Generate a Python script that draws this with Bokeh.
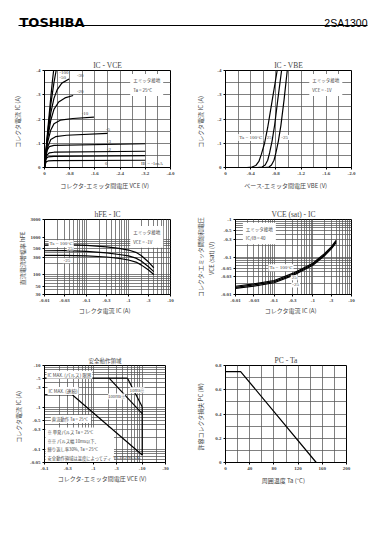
from bokeh.plotting import figure
from bokeh.models import Range1d, FixedTicker, CustomJSTickFormatter, Label
from bokeh.layouts import column, row
from bokeh.embed import file_html
from bokeh.resources import INLINE
from bokeh.core.properties import value

SERIF = "Liberation Serif"
JP = "Noto Sans CJK JP"

# ---------------- data ----------------
# (1) IC - VCE, common emitter, Ta = 25 C ; one list per base current (mA)
ivce_ib = ["-100", "-50", "-30", "-20", "-10", "-5", "-3", "-2", "-1.5", "-1"]
ivce_vce = [
    [0, -0.05, -0.10, -0.15, -0.20, -0.25, -0.29],
    [0, -0.05, -0.10, -0.20, -0.30, -0.37],
    [0, -0.05, -0.10, -0.20, -0.30, -0.40, -0.55, -0.78],
    [0, -0.05, -0.10, -0.20, -0.30, -0.45, -0.65, -0.91],
    [0, -0.05, -0.10, -0.20, -0.30, -0.50, -0.90, -1.57],
    [0, -0.05, -0.10, -0.20, -0.35, -0.70, -2.00],
    [0, -0.04, -0.08, -0.15, -0.30, -3.20],
    [0, -0.04, -0.08, -0.15, -0.30, -3.20],
    [0, -0.03, -0.06, -0.12, -0.30, -3.20],
    [0, -0.03, -0.06, -0.12, -0.30, -3.20],
]
ivce_ic = [
    [0, -0.75, -1.50, -2.20, -2.90, -3.55, -4.00],
    [0, -0.72, -1.40, -2.60, -3.50, -4.00],
    [0, -0.70, -1.30, -2.25, -2.85, -3.20, -3.48, -3.65],
    [0, -0.65, -1.20, -1.95, -2.40, -2.70, -2.87, -2.97],
    [0, -0.60, -1.05, -1.55, -1.80, -1.95, -2.02, -2.08],
    [0, -0.50, -0.85, -1.15, -1.27, -1.33, -1.41],
    [0, -0.45, -0.70, -0.86, -0.91, -0.98],
    [0, -0.35, -0.52, -0.60, -0.63, -0.67],
    [0, -0.25, -0.38, -0.44, -0.46, -0.49],
    [0, -0.16, -0.24, -0.27, -0.28, -0.30],
]
ivce_notes = ["-100", "-50", "-30", "-20", "-10", "-5", "-3", "-2", "0", "IB = -1mA"]
ivce_x_ticks = [0, -0.8, -1.6, -2.4, -3.2, -4.0]
ivce_x_labels = ["0", "-0.8", "-1.6", "-2.4", "-3.2", "-4.0"]
ic_y_ticks = [0, -1, -2, -3, -4]
ic_y_labels = ["0", "-1", "-2", "-3", "-4"]

# (2) IC - VBE, VCE = -1 V
vbe_temps = ["Ta = 100°C", "25", "-25"]
vbe_vbe = [
    [-0.34, -0.42, -0.48, -0.53, -0.57, -0.62, -0.67, -0.74, -0.82],
    [-0.50, -0.58, -0.63, -0.67, -0.70, -0.74, -0.78, -0.83, -0.89],
    [-0.62, -0.69, -0.73, -0.77, -0.80, -0.84, -0.88, -0.93, -0.98],
]
vbe_ic = [
    [0, -0.02, -0.08, -0.25, -0.55, -1.00, -1.65, -2.75, -4.00],
    [0, -0.02, -0.10, -0.30, -0.60, -1.10, -1.75, -2.80, -4.00],
    [0, -0.02, -0.10, -0.30, -0.60, -1.10, -1.75, -2.80, -4.00],
]
vbe_x_ticks = [0, -0.4, -0.8, -1.2, -1.6, -2.0]
vbe_x_labels = ["0", "-0.4", "-0.8", "-1.2", "-1.6", "-2.0"]

# (3) hFE - IC (|IC| in A, shown negative), VCE = -1 V
hfe_ic = [0.01, 0.03, 0.1, 0.3, 0.6, 1.0, 1.5, 2.0, 3.0, 4.0]
hfe_100 = [620, 640, 610, 560, 510, 460, 400, 330, 220, 155]
hfe_25 = [440, 445, 425, 385, 350, 320, 280, 235, 165, 122]
hfe_m25 = [330, 332, 322, 300, 275, 250, 220, 185, 135, 102]
ic_log_ticks = [0.01, 0.03, 0.1, 0.3, 1, 3, 10]
ic_log_labels = ["-0.01", "-0.03", "-0.1", "-0.3", "-1", "-3", "-10"]
hfe_ticks = [30, 50, 100, 300, 500, 1000, 3000]
hfe_labels = ["30", "50", "100", "300", "500", "1000", "3000"]

# (4) VCE(sat) - IC, IC/IB = 40 (magnitudes)
sat_ic = [0.01, 0.03, 0.1, 0.3, 1.0, 2.0, 3.0, 4.0]
sat_100 = [0.0166, 0.0193, 0.0236, 0.0365, 0.0685, 0.123, 0.187, 0.278]
sat_25 = [0.0155, 0.018, 0.022, 0.034, 0.064, 0.115, 0.175, 0.26]
sat_m25 = [0.0145, 0.0168, 0.0206, 0.0318, 0.060, 0.108, 0.164, 0.243]
sat_ticks = [0.01, 0.03, 0.05, 0.1, 0.3, 0.5, 1]
sat_labels = ["-0.01", "-0.03", "-0.05", "-0.1", "-0.3", "-0.5", "-1"]

# (5) Safe operating area (magnitudes)
soa_pulse_v = [0.1, 5.0]
soa_pulse_i = [5, 5]
soa_10ms_v = [5.0, 10]
soa_10ms_i = [5, 1.05]
soa_100ms_v = [2.1, 10]
soa_100ms_i = [5, 0.72]
soa_dc_v = [0.1, 0.375, 10]
soa_dc_i = [2, 2, 0.075]
soa_vceo_v = [10, 10]
soa_vceo_i = [1.05, 0.075]
soa_x_ticks = [0.1, 0.3, 1, 3, 10, 30]
soa_x_labels = ["-0.1", "-0.3", "-1", "-3", "-10", "-30"]
soa_y_ticks = [0.05, 0.1, 0.3, 0.5, 1, 3, 5, 10]
soa_y_labels = ["-0.05", "-0.1", "-0.3", "-0.5", "-1", "-3", "-5", "-10"]

# (6) PC - Ta
pc_ta = [0, 25, 150]
pc_w = [0.75, 0.75, 0]
ta_ticks = [0, 40, 80, 120, 160, 200]
ta_labels = ["0", "40", "80", "120", "160", "200"]
pc_ticks = [0, 0.2, 0.4, 0.6, 0.8]
pc_labels = ["0", "0.2", "0.4", "0.6", "0.8"]


# ---------------- helpers ----------------
def fmt(ticks, labels):
    return CustomJSTickFormatter(args=dict(t=list(ticks), l=list(labels)), code="""
        for (let i = 0; i < t.length; i++) {
            if (Math.abs(t[i] - tick) <= 1e-9 * Math.max(1, Math.abs(tick))) return l[i];
        }
        return '';
    """)


def log_grid(lo, hi):
    vals = []
    for e in range(-3, 3):
        for m in range(1, 10):
            v = round(m * 10 ** e, 6)
            if lo - 1e-12 <= v <= hi + 1e-12:
                vals.append(v)
    return vals


def chart(w, h, left, right, top, bottom, xr, yr, title, xt="linear", yt="linear"):
    p = figure(width=w, height=h, x_range=xr, y_range=yr, x_axis_type=xt, y_axis_type=yt,
               output_backend="svg", toolbar_location=None, title=title,
               min_border_left=left, min_border_right=right,
               min_border_top=top, min_border_bottom=bottom)
    p.outline_line_color = "black"
    p.outline_line_width = 1
    p.title.text_font = SERIF
    p.title.text_font_size = "7.5px"
    p.title.text_font_style = "normal"
    p.title.align = "center"
    p.title.standoff = 2
    p.background_fill_color = "white"
    return p


def style(p, xt, xl, yt, yl, xg, yg, xlabel, ylabel, xs, ys):
    p.xaxis.ticker = FixedTicker(ticks=xt, minor_ticks=[])
    p.yaxis.ticker = FixedTicker(ticks=yt, minor_ticks=[])
    p.xaxis.formatter = fmt(xt, xl)
    p.yaxis.formatter = fmt(yt, yl)
    p.xgrid.ticker = FixedTicker(ticks=xg, minor_ticks=[])
    p.ygrid.ticker = FixedTicker(ticks=yg, minor_ticks=[])
    for g in (p.xgrid[0], p.ygrid[0]):
        g.grid_line_color = "#555555"
        g.grid_line_width = 0.75
    for ax in (p.xaxis[0], p.yaxis[0]):
        ax.axis_line_color = "black"
        ax.major_tick_line_color = "black"
        ax.major_tick_out = 2
        ax.major_tick_in = 0
        ax.minor_tick_line_color = None
        ax.major_label_text_font = SERIF
        ax.major_label_text_font_size = "5px"
        ax.major_label_text_font_style = "bold"
        ax.major_label_standoff = 2
        ax.axis_label_text_font = JP
        ax.axis_label_text_font_size = "6px"
        ax.axis_label_text_font_style = "normal"
    p.xaxis.axis_label = xlabel
    p.yaxis.axis_label = ylabel
    p.xaxis.axis_label_standoff = xs
    p.yaxis.axis_label_standoff = ys


def note(p, x, y, text, align="left", baseline="middle", size="5px", bg=None, pad=0, lh=1.2,
         font=SERIF, level="annotation"):
    p.add_layout(Label(x=x, y=y, text=text, text_align=align, text_baseline=baseline,
                       text_font=font, text_font_size=size, level=level,
                       background_fill_color=bg, padding=pad, text_line_height=lh))


LW = 1.2

# ---------------- header (includes the 8px page offset) ----------------
hdr = figure(width=378, height=45, x_range=Range1d(0, 378), y_range=Range1d(45, 0),
             output_backend="svg", toolbar_location=None, min_border=0,
             x_axis_location=None, y_axis_location=None)
hdr.grid.visible = False
hdr.outline_line_color = None
hdr.text(x=[19], y=[22], text=["TOSHIBA"], text_font=value("DejaVu Sans"),
         text_font_style="bold", text_font_size="13px", text_baseline="alphabetic")
hdr.text(x=[367], y=[22], text=["2SA1300"], text_font=value("Liberation Sans"),
         text_font_size="10.5px", text_align="right", text_baseline="alphabetic")
hdr.segment(x0=[18], y0=[25], x1=[367], y1=[25], line_color="black", line_width=1)

# ---------------- chart 1 : IC - VCE ----------------
p1 = chart(193, 155, 44, 23, 25, 33, Range1d(0, -4), Range1d(0, -4), "IC - VCE")
style(p1, ivce_x_ticks, ivce_x_labels, ic_y_ticks, ic_y_labels,
      [-0.4 * i for i in range(11)], [-0.5 * i for i in range(9)],
      "コレクタ-エミッタ間電圧   VCE   (V)", "コレクタ電流   IC   (A)", 3, 11)
for xs, ys in zip(ivce_vce, ivce_ic):
    p1.line(xs, ys, line_color="black", line_width=LW)
n1_pos = [(-0.47, -3.93), (-0.47, -3.72), (-1.03, -3.78), (-1.03, -3.12), (-1.18, -2.22),
          (-1.95, -1.55), (-1.98, -1.08), (-1.98, -0.76), (-1.92, -0.17), (-3.06, -0.15)]
for t, (x, y) in zip(ivce_notes, n1_pos):
    note(p1, x, y, t, size="5px")
note(p1, -2.72, -3.86, "エミッタ接地\nTa = 25°C", baseline="top", size="4.5px", bg="white",
     pad=3, lh=1.7, font=JP, level="underlay")

# ---------------- chart 2 : IC - VBE ----------------
p2 = chart(185, 155, 32, 27, 25, 33, Range1d(0, -2), Range1d(0, -4), "IC - VBE")
style(p2, vbe_x_ticks, vbe_x_labels, ic_y_ticks, ic_y_labels,
      [-0.2 * i for i in range(11)], [-0.5 * i for i in range(9)],
      "ベース-エミッタ間電圧   VBE   (V)", "コレクタ電流   IC   (A)", 3, 9)
for xs, ys in zip(vbe_vbe, vbe_ic):
    p2.line(xs, ys, line_color="black", line_width=LW)
note(p2, -0.60, -1.24, vbe_temps[0], align="right", bg="white", pad=1)
note(p2, -0.695, -1.24, vbe_temps[1], align="center", bg="white", pad=0)
note(p2, -0.87, -1.24, vbe_temps[2], align="left", bg="white", pad=1)
note(p2, -1.33, -3.86, "エミッタ接地\nVCE = -1V", baseline="top", size="4.5px", bg="white",
     pad=3, lh=1.7, font=JP, level="underlay")

# ---------------- chart 3 : hFE - IC ----------------
p3 = chart(193, 135, 44, 23, 16, 41, Range1d(0.01, 10), Range1d(30, 3000), "hFE - IC", xt="log", yt="log")
style(p3, ic_log_ticks, ic_log_labels, hfe_ticks, hfe_labels,
      log_grid(0.01, 10), log_grid(30, 3000),
      "コレクタ電流   IC   (A)", "直流電流増幅率   hFE", 1, 1)
for ys in (hfe_100, hfe_25, hfe_m25):
    p3.line(hfe_ic, ys, line_color="black", line_width=LW)
note(p3, 0.0125, 680, "Ta = 100°C", bg="white", pad=1)
note(p3, 0.041, 520, "25", align="center", bg="white", pad=1)
note(p3, 0.034, 240, "-25", align="center", bg="white", pad=1)
note(p3, 1.1, 2000, "エミッタ接地\nVCE = -1V", baseline="top", size="4.5px", bg="white",
     pad=3, lh=1.6, font=JP, level="underlay")

# ---------------- chart 4 : VCE(sat) - IC ----------------
p4 = chart(185, 135, 32, 27, 19, 36, Range1d(0.01, 10), Range1d(0.01, 1), "VCE (sat) - IC", xt="log", yt="log")
style(p4, ic_log_ticks, ic_log_labels, sat_ticks, sat_labels,
      log_grid(0.01, 10), log_grid(0.01, 1),
      "コレクタ電流   IC   (A)", "コレクタ-エミッタ間飽和電圧\nVCE (sat)   (V)", 1, 2)
for ys in (sat_100, sat_25, sat_m25):
    p4.line(sat_ic, ys, line_color="black", line_width=LW)
note(p4, 0.15, 0.052, "Ta = 100°C", align="center", bg="white", pad=1)
note(p4, 0.33, 0.028, "25", align="center", bg="white", pad=1)
note(p4, 0.36, 0.018, "-25", align="center", bg="white", pad=1)
note(p4, 0.0155, 0.82, "エミッタ接地\nIC/IB = 40", baseline="top", size="4.5px", bg="white",
     pad=3, lh=1.6, font=JP, level="underlay")

# ---------------- chart 5 : safe operating area ----------------
p5 = chart(193, 165, 44, 28, 13, 38, Range1d(0.1, 30), Range1d(0.05, 10), "安全動作領域", xt="log", yt="log")
p5.title.text_font = JP
p5.title.text_font_size = "5.5px"
style(p5, soa_x_ticks, soa_x_labels, soa_y_ticks, soa_y_labels,
      log_grid(0.1, 30), log_grid(0.05, 10),
      "コレクタ-エミッタ間電圧   VCE   (V)", "コレクタ電流   IC   (A)", 1, 4)
note(p5, 0.105, 0.34, "※    単発パルス    Ta = 25°C\n※※ パルス幅 10ms以下、\n        繰り返し率30%, Ta = 25°C\n"
     "安全動作領域は温度によってディ\nレーティングして考える必要があ\nります。",
     baseline="top", size="4.3px", bg="white", pad=2, lh=1.42, font=JP, level="underlay")
note(p5, 0.135, 0.54, "直流動作   Ta = 25°C", size="4.3px", bg="white", pad=1, font=JP, level="underlay")
for xs, ys in ((soa_pulse_v, soa_pulse_i), (soa_10ms_v, soa_10ms_i), (soa_100ms_v, soa_100ms_i),
               (soa_dc_v, soa_dc_i), (soa_vceo_v, soa_vceo_i)):
    p5.line(xs, ys, line_color="black", line_width=LW)
note(p5, 0.11, 6.0, "IC MAX. (パルス) 限界", size="4.6px", bg="white", pad=1, font=JP)
note(p5, 0.115, 2.5, "IC MAX. (連続)", size="4.6px", bg="white", pad=1, font=JP)
note(p5, 7.9, 2.6, "10ms※", align="center", size="4.2px", bg="white", pad=0, font=JP)
note(p5, 3.0, 1.85, "100ms※", align="center", size="4.2px", bg="white", pad=0, font=JP)
note(p5, 9.3, 0.064, "VCEO MAX.", align="right", size="5px")

# ---------------- chart 6 : PC - Ta ----------------
p6 = chart(185, 165, 31, 32, 30, 38, Range1d(0, 200), Range1d(0, 0.8), "PC - Ta")
style(p6, ta_ticks, ta_labels, pc_ticks, pc_labels,
      [20 * i for i in range(11)], [0.1 * i for i in range(9)],
      "周囲温度   Ta   (°C)", "許容コレクタ損失   PC   (W)", 3, 7)
p6.line(pc_ta, pc_w, line_color="black", line_width=LW)

layout = column(hdr, row(p1, p2), row(p3, p4), row(p5, p6))
open("out.html", "w").write(file_html(layout, INLINE))
